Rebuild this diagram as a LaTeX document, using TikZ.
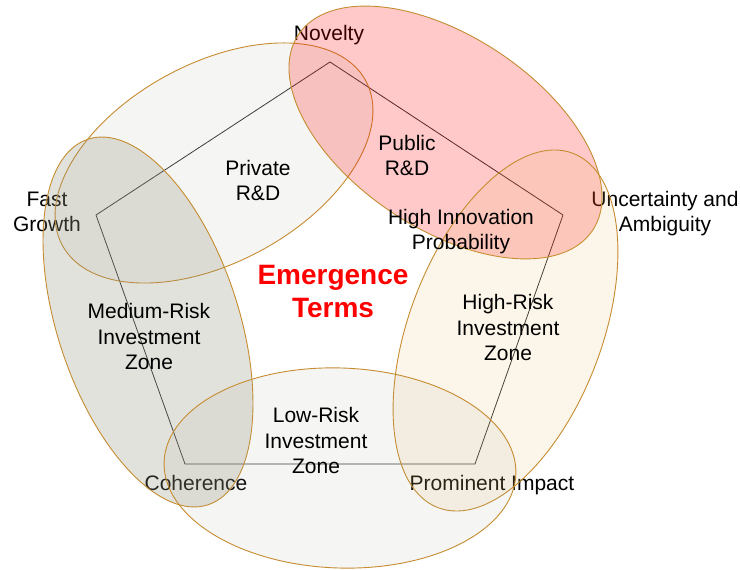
\documentclass[tikz,border=0pt]{standalone}
\usepackage{fontspec}
\setmainfont{Liberation Sans}
\begin{document}
\begin{tikzpicture}[x=1pt,y=1pt,
  zone/.style={draw=ringc, line width=0.9pt},
  lbl/.style={anchor=base, align=center, text=black, inner sep=0pt,
    font=\fontsize{21}{25.5}\selectfont},
  edge/.style={draw=edgec, line width=0.8pt}]
\definecolor{ringc}{RGB}{198,140,48}
\definecolor{edgec}{RGB}{50,50,50}
\definecolor{greyA}{RGB}{165,165,145}
\definecolor{greyB}{RGB}{143,143,119}
\definecolor{creamD}{RGB}{238,180,80}
\useasboundingbox (0,0) rectangle (740,570);
\fill[white] (0,0) rectangle (740,570);
% pentagon vertices
\coordinate (nov) at (330,508);
\coordinate (unc) at (563,355);
\coordinate (pro) at (475,106);
\coordinate (coh) at (185,106);
\coordinate (fas) at (96,355);
\draw[edge] (nov) -- (unc) -- (pro) -- (coh) -- (fas) -- cycle;
% vertex labels
\node[lbl] (tnov) at (329,529) {Novelty};
\node[lbl] (tfas) at (47,338) {Fast\\Growth};
\node[lbl] (tunc) at (665,338) {Uncertainty and\\Ambiguity};
\node[lbl] (tcoh) at (196,79) {Coherence};
\node[lbl] (tpro) at (492,79) {Prominent Impact};
% ellipses
\path[zone, fill=greyA, fill opacity=0.1, rotate around={28.5:(214,407)}]
  (214,407) ellipse [x radius=172.6pt, y radius=99.4pt];
\path[zone, fill=greyB, fill opacity=0.25, rotate around={-71.8:(148,248)}]
  (148,248) ellipse [x radius=192.4pt, y radius=90.6pt];
\path[zone, fill=red, fill opacity=0.21, rotate around={-33.6:(445.5,437.5)}]
  (445.5,437.5) ellipse [x radius=176.7pt, y radius=96.2pt];
\path[zone, fill=creamD, fill opacity=0.12, rotate around={69.2:(505.5,239.5)}]
  (505.5,239.5) ellipse [x radius=189.6pt, y radius=96.3pt];
\path[zone, fill=greyA, fill opacity=0.1, rotate around={-2:(340,102)}]
  (340,102) ellipse [x radius=176pt, y radius=100pt];
% zone labels
\node[lbl] (tpriv) at (258,369) {Private\\R\&D};
\node[lbl] (tpub) at (407,394) {Public\\R\&D};
\node[lbl] (thip) at (461,320) {High Innovation\\Probability};
\node[lbl] (thr) at (508,209) {High-Risk\\Investment\\Zone};
\node[lbl] (tmr) at (149,200) {Medium-Risk\\Investment\\Zone};
\node[lbl] (tlr) at (316,96) {Low-Risk\\Investment\\Zone};
\node[anchor=base, align=center, inner sep=0pt, text=red,
  font=\fontsize{28}{33}\selectfont\bfseries] (emt) at (333,252) {Emergence\\Terms};
\end{tikzpicture}
\end{document}
